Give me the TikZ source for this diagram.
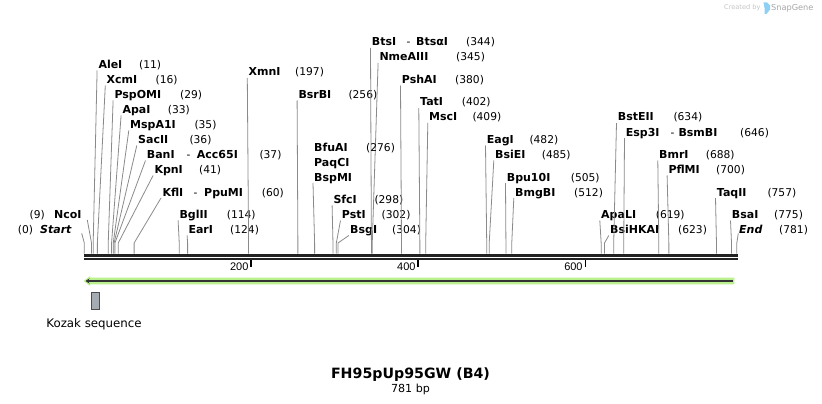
\documentclass[tikz,border=0pt]{standalone}
\usepackage{fontspec}
\setmainfont{DejaVu Sans}
\newfontfamily\tickfont{Liberation Sans}
\usetikzlibrary{arrows.meta}
\definecolor{cutgray}{HTML}{8A8A8A}
\definecolor{bbcol}{HTML}{222222}
\definecolor{featgreen}{HTML}{BBF08E}
\definecolor{featdark}{HTML}{333333}
\definecolor{kozakfill}{HTML}{A4ABB3}
\definecolor{wmgray}{HTML}{C4C4C4}
\definecolor{wmdark}{HTML}{A6A6A6}
\definecolor{wmblue}{HTML}{8ED0F4}
\begin{document}
\begin{tikzpicture}[x=1pt,y=-1pt,
  nm/.style={anchor=base west,inner sep=0pt,font=\fontsize{11}{11}\selectfont\bfseries},
  nmr/.style={anchor=base east,inner sep=0pt,font=\fontsize{11}{11}\selectfont\bfseries},
  nmi/.style={inner sep=0pt,font=\fontsize{11}{11}\selectfont\bfseries\itshape},
  num/.style={anchor=base west,inner sep=0pt,font=\fontsize{10.7}{11}\selectfont},
  numr/.style={anchor=base east,inner sep=0pt,font=\fontsize{10.7}{11}\selectfont},
  cutline/.style={draw=cutgray,line width=0.8pt},
  ticklab/.style={anchor=base east,inner sep=0pt,font=\tickfont\fontsize{11}{11}\selectfont},
  tickmark/.style={draw=black,line width=1.5pt},
  kozakbox/.style={draw=black!70,fill=kozakfill,line width=0.8pt,minimum width=8.7pt,minimum height=16.6pt,inner sep=0pt},
]
\useasboundingbox (0,0) rectangle (822,404);

% ---- simple enzyme labels ----
\foreach \id/\lx/\ly/\name/\nx/\bp in {
  ale/98.3/64.5/AleI/139/11,
  xcm/106.5/79.5/XcmI/155.5/16,
  pspo/114.3/94.5/PspOMI/180/29,
  apa/122.3/109.5/ApaI/167.7/33,
  mspa/130/124.5/MspA1I/194.3/35,
  sac/138/139.5/SacII/189.3/36,
  kpn/154.3/169.5/KpnI/199/41,
  bgl/179.3/214.5/BglII/226.7/114,
  ear/188.3/229.5/EarI/230/124,
  xmn/248.5/72/XmnI/295/197,
  bsrb/298.3/94.5/BsrBI/348.3/256,
  sfc/333.3/199.5/SfcI/374.3/298,
  pst/341.7/214.5/PstI/381.5/302,
  bsg/350/229.5/BsgI/392/304,
  nme/379.3/57/NmeAIII/456/345,
  psha/401.7/79.5/PshAI/455/380,
  tat/420/102/TatI/461.7/402,
  msc/429/117/MscI/472.3/409,
  eag/486.7/139.5/EagI/529.3/482,
  bsie/495/154.5/BsiEI/541.7/485,
  bpu/506.7/177/Bpu10I/570.7/505,
  bmgb/515/192/BmgBI/574/512,
  apal/601/214.5/ApaLI/655.7/619,
  bsihk/610/229.5/BsiHKAI/678/623,
  bste/617.7/117/BstEII/673.3/634,
  bmr/659/154.5/BmrI/705.7/688,
  pflm/668.3/169.5/PflMI/716/700,
  taq/716.7/192/TaqII/767.3/757,
  bsa/731.7/214.5/BsaI/774/775}
{
  \node[nm] (n\id) at (\lx,\ly+4) {\name};
  \node[num] (p\id) at (\nx,\ly+4) {(\bp)};
  \coordinate (t\id) at (\lx-1.2,\ly+6);
  \coordinate (c\id) at ({84+\bp*0.8355},243);
  \coordinate (b\id) at ({84+\bp*0.8355},253.5);
  \draw[cutline] (t\id) -- (c\id) -- (b\id);
}

% ---- composite labels ----
\node[nm] (nbts1) at (371.7,46) {BtsI};
\node[num] (nbtsd) at (406.5,46) {-};
\node[nm] (nbts2) at (416,46) {BtsαI};
\node[num] (pbts) at (466,46) {(344)};
\coordinate (tbts) at (370.5,48);
\coordinate (cbts) at ({84+344*0.8355},243);
\coordinate (bbts) at ({84+344*0.8355},253.5);
\draw[cutline] (tbts) -- (cbts) -- (bbts);

\node[nm] (nesp1) at (625.7,136) {Esp3I};
\node[num] (nespd) at (670.5,136) {-};
\node[nm] (nesp2) at (678.3,136) {BsmBI};
\node[num] (pesp) at (740,136) {(646)};
\coordinate (tesp) at (624.5,138);
\coordinate (cesp) at ({84+646*0.8355},243);
\coordinate (besp) at ({84+646*0.8355},253.5);
\draw[cutline] (tesp) -- (cesp) -- (besp);

\node[nm] (nban1) at (146.7,158.5) {BanI};
\node[num] (nband) at (186.5,158.5) {-};
\node[nm] (nban2) at (196.7,158.5) {Acc65I};
\node[num] (pban) at (259.3,158.5) {(37)};
\coordinate (tban) at (145.5,160.5);
\coordinate (cban) at ({84+37*0.8355},243);
\coordinate (bban) at ({84+37*0.8355},253.5);
\draw[cutline] (tban) -- (cban) -- (bban);

\node[nm] (nkfl1) at (162.3,196) {KflI};
\node[num] (nkfld) at (193.5,196) {-};
\node[nm] (nkfl2) at (204,196) {PpuMI};
\node[num] (pkfl) at (261.7,196) {(60)};
\coordinate (tkfl) at (161,198);
\coordinate (ckfl) at ({84+60*0.8355},243);
\coordinate (bkfl) at ({84+60*0.8355},253.5);
\draw[cutline] (tkfl) -- (ckfl) -- (bkfl);

\node[nm] (nbfu) at (314,151) {BfuAI};
\node[num] (pbfu) at (366,151) {(276)};
\node[nm] (npaq) at (314,166) {PaqCI};
\node[nm] (nbspm) at (314,181) {BspMI};
\coordinate (tbfu) at (313,183);
\coordinate (cbfu) at ({84+276*0.8355},243);
\coordinate (bbfu) at ({84+276*0.8355},253.5);
\draw[cutline] (tbfu) -- (cbfu) -- (bbfu);

% ---- labels to the left of their line ----
\node[nmr] (nnco) at (81.7,218.5) {NcoI};
\node[numr] (pnco) at (45,218.5) {(9)};
\coordinate (tnco) at (87.3,220);
\coordinate (cnco) at ({84+9*0.8355},243);
\coordinate (bnco) at ({84+9*0.8355},253.5);
\draw[cutline] (tnco) -- (cnco) -- (bnco);

\node[nmi,anchor=base east] (nstart) at (71.7,233.5) {Start};
\node[numr] (pstart) at (33.3,233.5) {(0)};
\coordinate (tstart) at (81.7,233.3);
\coordinate (cstart) at (84.3,243);
\coordinate (bstart) at (84.3,253.5);
\draw[cutline] (tstart) -- (cstart) -- (bstart);

\node[nmi,anchor=base west] (nend) at (739,233.5) {End};
\node[num] (pend) at (779,233.5) {(781)};
\coordinate (tend) at (738.3,233.3);
\coordinate (cend) at (736.8,243);
\coordinate (bend) at (736.8,253.5);
\draw[cutline] (tend) -- (cend) -- (bend);

% ---- backbone ----
\coordinate (bbL) at (84,255);
\coordinate (bbR) at (737.5,255);
\coordinate (bbL2) at (84,259);
\coordinate (bbR2) at (737.5,259);
\draw[draw=bbcol,line width=3pt] (bbL) -- (bbR);
\draw[draw=bbcol,line width=2.6pt] (bbL2) -- (bbR2);

% ---- ticks ----
\foreach \t in {200,400,600}{
  \coordinate (tk\t a) at ({84+\t*0.8355},260);
  \coordinate (tk\t b) at ({84+\t*0.8355},266.5);
  \draw[tickmark] (tk\t a) -- (tk\t b);
  \node[ticklab] (tl\t) at ({84+\t*0.8355-2.5},270.5) {\t};
}

% ---- feature arrow ----
\fill[featgreen] (90,277.7) -- (734.3,277.7) -- (734.3,284.3) -- (90,284.3)
   -- (90,285.8) -- (83.5,281) -- (90,276.2) -- cycle;
\coordinate (faR) at (732.7,281);
\coordinate (faL) at (85.5,281);
\draw[draw=featdark,line width=2.2pt,-{Stealth[length=4pt,width=5pt]}] (faR) -- (faL);

% ---- Kozak ----
\node[kozakbox] (kz) at (95.3,301) {};
\node[anchor=base,inner sep=0pt,font=\fontsize{11.8}{12}\selectfont] (kzl) at (94,327) {Kozak sequence};

% ---- title ----
\node[anchor=base,inner sep=0pt,font=\fontsize{14.2}{15}\selectfont\bfseries] (title) at (410.5,378) {FH95pUp95GW (B4)};
\node[anchor=base,inner sep=0pt,font=\fontsize{11.1}{12}\selectfont] (len) at (410.5,392) {781 bp};

% ---- watermark ----
\node[anchor=base west,inner sep=0pt,text=wmgray,font=\fontsize{6.6}{7}\selectfont] (wm1) at (724,10) {Created by};
\fill[wmblue] (763.5,2.5) -- (767,2.5) -- (770,5.5) -- (770,9.5) -- (766.5,14) -- (764.5,14) -- (764.5,8) -- cycle;
\node[anchor=base west,inner sep=0pt,text=wmdark,font=\fontsize{8.2}{9}\selectfont] (wm2) at (771,10.5) {SnapGene};
\end{tikzpicture}
\end{document}
